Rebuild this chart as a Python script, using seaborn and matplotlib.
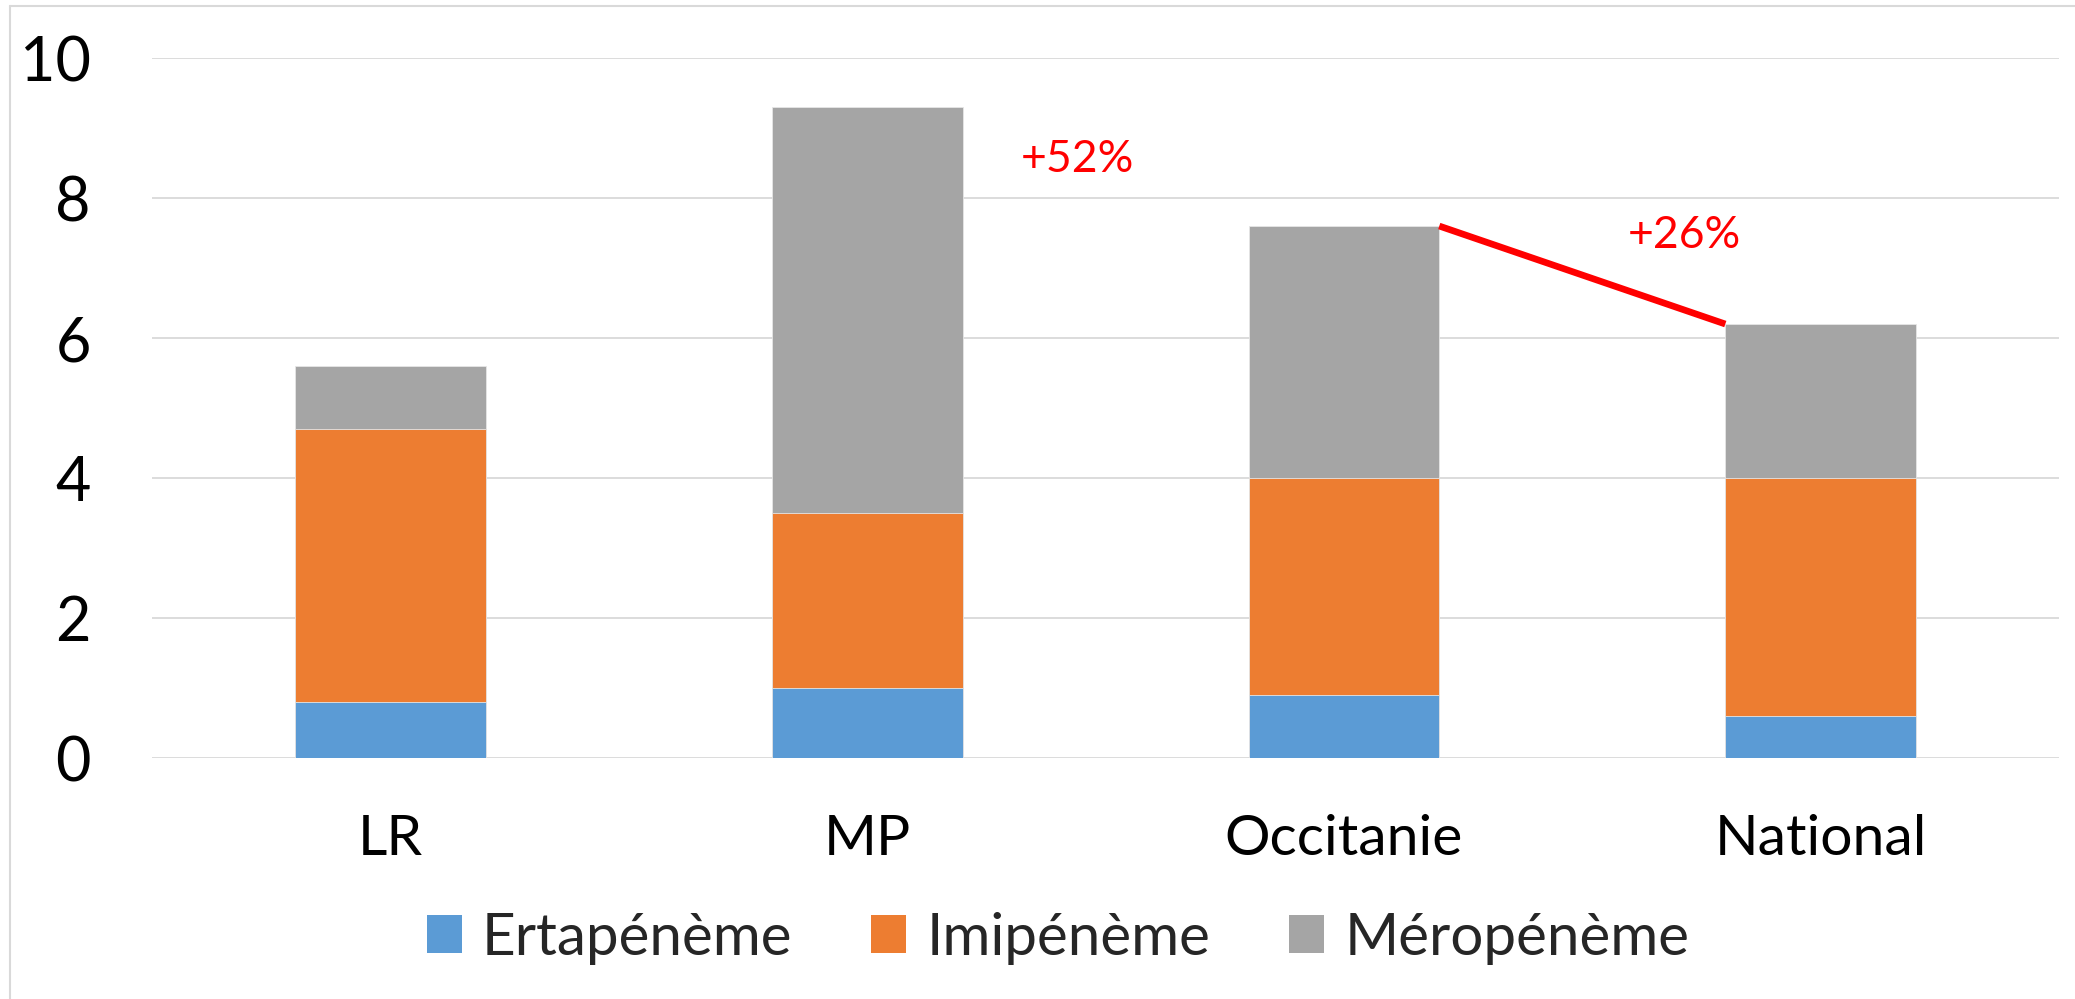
import matplotlib
matplotlib.use("Agg")
import matplotlib.pyplot as plt
from matplotlib.patches import Patch
from matplotlib.lines import Line2D
import pandas as pd
import seaborn as sns

regions = ["LR", "MP", "Occitanie", "National"]
ertapeneme = [0.8, 1.0, 0.9, 0.6]
imipeneme = [3.9, 2.5, 3.1, 3.4]
meropeneme = [0.9, 5.8, 3.6, 2.2]
series_names = ["Ertapénème", "Imipénème", "Méropénème"]
colors = ["#5B9BD5", "#ED7D31", "#A5A5A5"]
gap_labels = ["+52%", "+26%"]

sns.set_theme(style="white")
plt.rcParams["font.family"] = ["Lato", "DejaVu Sans"]

df = pd.DataFrame({"region": regions, "erta": ertapeneme,
                   "imi": imipeneme, "mero": meropeneme})
df["c1"] = df["erta"]
df["c2"] = df["c1"] + df["imi"]
df["c3"] = df["c2"] + df["mero"]

fig = plt.figure(figsize=(20.75, 9.99), dpi=100)
ax = fig.add_axes([0.0733, 0.2412, 0.9190, 0.7007])

bar_w = 0.4
# layered cumulative bars -> stacked look
for col, c in zip(["c3", "c2", "c1"], colors[::-1]):
    sns.barplot(data=df, x="region", y=col, color=c, width=bar_w,
                saturation=1, errorbar=None, ax=ax, zorder=3,
                edgecolor="#E6E6E6", linewidth=0.6)

ax.set_ylim(0, 10)
ax.set_xlim(-0.5, 3.5)
ax.set_yticks([0, 2, 4, 6, 8, 10])
ax.yaxis.grid(True, color="#D9D9D9", linewidth=1.3, zorder=0)
ax.set_axisbelow(True)
for s in ax.spines.values():
    s.set_visible(False)
ax.set_xlabel("")
ax.set_ylabel("")
ax.tick_params(axis="y", length=0, pad=44, labelsize=44, labelcolor="black")
ax.tick_params(axis="x", length=0, pad=40, labelsize=41, labelcolor="black")

# red connector from Occitanie top to National top
i, j = 2, 3
ax.plot([i + bar_w / 2, j - bar_w / 2], [df["c3"][i], df["c3"][j]],
        color="#FF0000", linewidth=4.8, solid_capstyle="butt", zorder=4)
ax.text(1.44, 8.55, gap_labels[0], color="#FF0000", fontsize=32,
        ha="center", va="center")
ax.text(2.715, 7.46, gap_labels[1], color="#FF0000", fontsize=32,
        ha="center", va="center")

handles = [Patch(facecolor=c, edgecolor="none") for c in colors]
fig.legend(handles, series_names, loc="center", bbox_to_anchor=(0.51, 0.061),
           ncol=3, frameon=False, fontsize=42, handlelength=0.6,
           handleheight=0.6, handletextpad=0.35, columnspacing=1.35)

# chart frame (left + top edges visible)
fig.add_artist(Line2D([10 / 2075, 10 / 2075], [0, 1 - 6 / 999],
                      color="#D9D9D9", linewidth=1.5))
fig.add_artist(Line2D([10 / 2075, 1], [1 - 6 / 999, 1 - 6 / 999],
                      color="#D9D9D9", linewidth=1.5))

fig.savefig("out.png", dpi=100, facecolor="white")
